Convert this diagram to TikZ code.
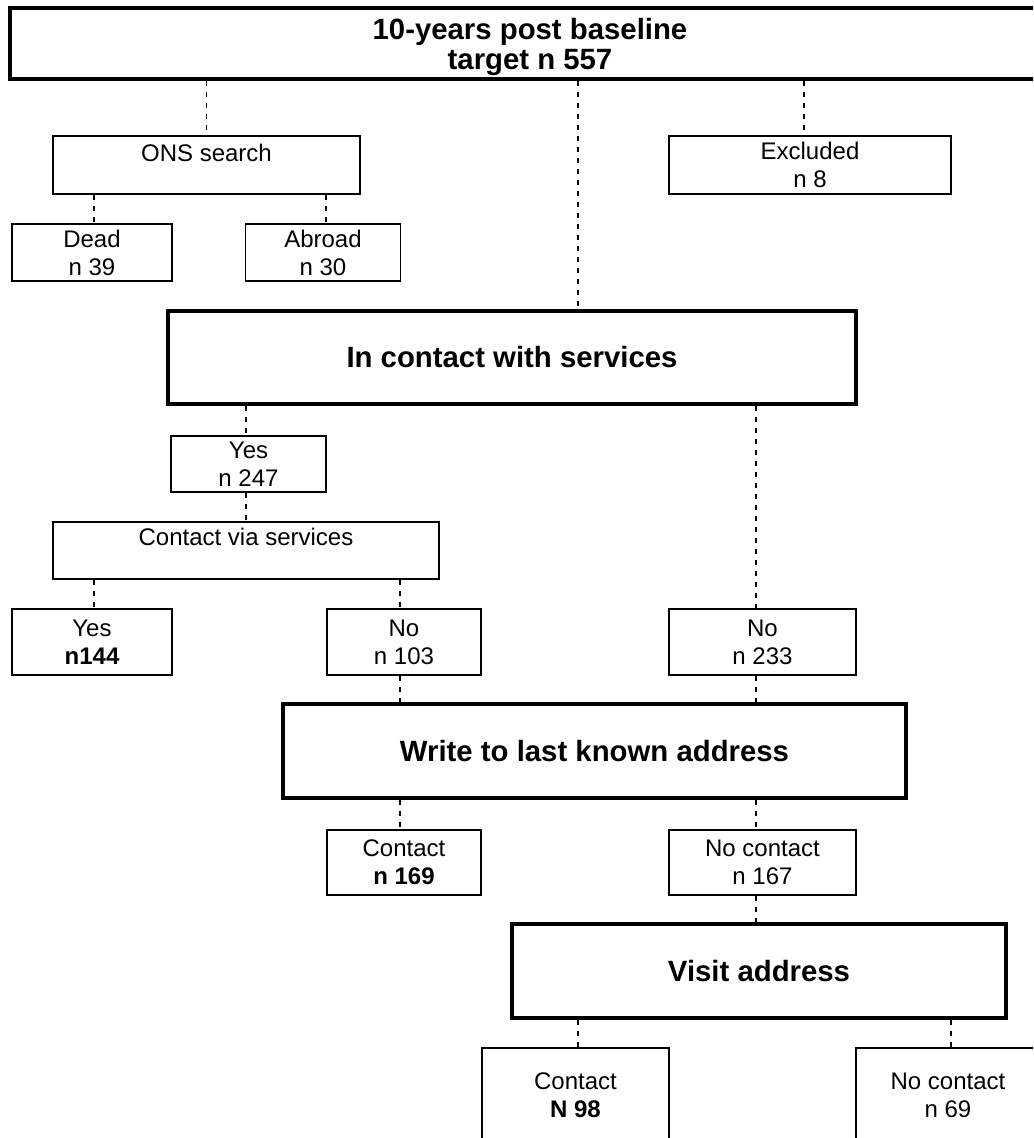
\documentclass[tikz,border=0pt]{standalone}
\usepackage{fontspec}
\setmainfont{Liberation Sans}
\usepackage{tikz}
\usetikzlibrary{positioning}
\tikzstyle{thinbox} = [rectangle, inner sep=0pt, align=center, draw=black, line width=1pt, font=\fontsize{18pt}{21pt}\selectfont]
\tikzstyle{thickbox} = [rectangle, inner sep=0pt, align=center, draw=black, line width=2.4pt, font=\fontsize{22pt}{22.5pt}\selectfont\bfseries]
\tikzstyle{link} = [draw=black, dash pattern=on 3.75pt off 4.5pt, line width=0.9pt]
\tikzstyle{heavylink} = [link, line width=1.6pt]

\begin{document}
\begin{tikzpicture}[x=0.75pt, y=-0.75pt]
        \useasboundingbox (0,0) rectangle (1033,1138);
        \clip (0,0) rectangle (1033,1138);
        \coordinate (colA) at (94,0);
        \coordinate (colB) at (578,0);
        \coordinate (colC) at (400,0);
        \coordinate (colD) at (756,0);
        \coordinate (colE) at (951,0);
        \coordinate (colF) at (326,0);
        \coordinate (colG) at (804,0);
        \node (top) [thickbox, minimum width=780pt, minimum height=53.25pt, text depth=-3pt] at (530,43.5) {10-years post baseline\\target n 557};
        \node (ons) [thinbox, minimum width=230.25pt, minimum height=43.5pt] at (206.5,165) {ONS search\\[-3pt]\mbox{}};
        \node (excl) [thinbox, minimum width=211.5pt, minimum height=43.5pt] at (810,165) {Excluded\\n 8};
        \node (dead) [thinbox, minimum width=120pt, minimum height=42.75pt] at (92,252.5) {Dead\\n 39};
        \node (abroad) [thinbox, minimum width=116.25pt, minimum height=42.75pt] at (323,252.5) {Abroad\\n 30};
        \node (services) [thickbox, minimum width=516pt, minimum height=69.75pt] at (512,357.5) {In contact with services};
        \node (yes247) [thinbox, minimum width=116.25pt, minimum height=42pt] at (248.5,464) {Yes\\n 247};
        \node (via) [thinbox, minimum width=289.5pt, minimum height=42.75pt] at (246,550.5) {Contact via services\\\mbox{}};
        \node (yes144) [thinbox, minimum width=120pt, minimum height=49.5pt] at (92,642) {Yes\\\textbf{n144}};
        \node (no103) [thinbox, minimum width=115.5pt, minimum height=49.5pt] at (404,642) {No\\n 103};
        \node (no233) [thinbox, minimum width=140.25pt, minimum height=49.5pt] at (762.5,642) {No\\n 233};
        \node (write) [thickbox, minimum width=467.25pt, minimum height=70.5pt] at (594.5,751) {Write to last known address};
        \node (c169) [thinbox, minimum width=115.5pt, minimum height=48.75pt] at (404,862.5) {Contact\\\textbf{n 169}};
        \node (nc167) [thinbox, minimum width=140.25pt, minimum height=48.75pt] at (762.5,862.5) {No contact\\n 167};
        \node (visit) [thickbox, minimum width=370.5pt, minimum height=70.5pt] at (759,971) {Visit address};
        \node (c98) [thinbox, minimum width=140.25pt, minimum height=71.25pt] at (575.5,1095.5) {Contact\\\textbf{N 98}};
        \node (nc69) [thinbox, minimum width=138pt, minimum height=71.25pt] at (948,1095.5) {No contact\\n 69};
        \draw [link] (top.south -| ons.north) -- (ons.north);
        \draw [link] (top.south -| colB) -- (services.north -| colB);
        \draw [link] (top.south -| colG) -- (excl.north -| colG);
        \draw [heavylink] (ons.south -| colA) -- (dead.north -| colA);
        \draw [heavylink] (ons.south -| colF) -- (abroad.north -| colF);
        \draw [link] (services.south -| via.north) -- (yes247.north -| via.north);
        \draw [link] (yes247.south -| via.north) -- (via.north);
        \draw [link] (services.south -| colD) -- (no233.north -| colD);
        \draw [heavylink] (via.south -| colA) -- (yes144.north -| colA);
        \draw [heavylink] (via.south -| colC) -- (no103.north -| colC);
        \draw [link] (no103.south -| colC) -- (write.north -| colC);
        \draw [link] (no233.south -| colD) -- (write.north -| colD);
        \draw [link] (write.south -| colC) -- (c169.north -| colC);
        \draw [link] (write.south -| colD) -- (nc167.north -| colD);
        \draw [link] (nc167.south -| colD) -- (visit.north -| colD);
        \draw [link] (visit.south -| colB) -- (c98.north -| colB);
        \draw [link] (visit.south -| colE) -- (nc69.north -| colE);
    \end{tikzpicture}
\end{document}
